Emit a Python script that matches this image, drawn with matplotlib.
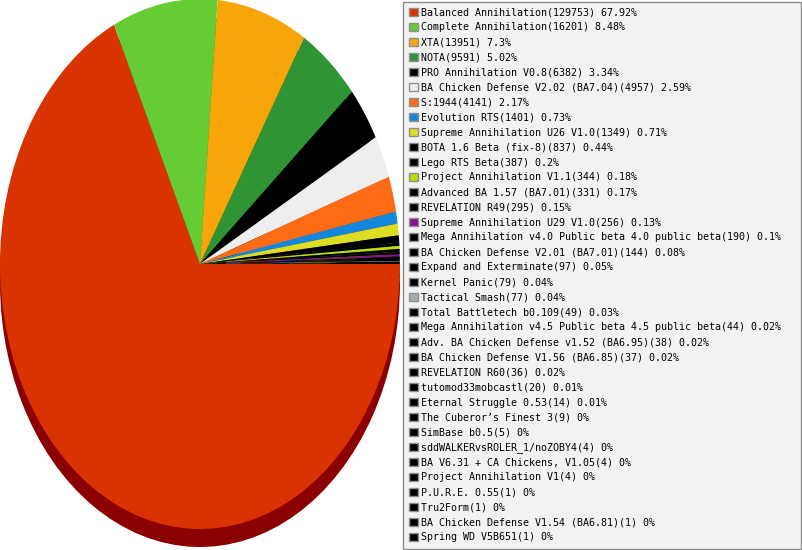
import matplotlib
matplotlib.use("Agg")
import matplotlib.pyplot as plt
from matplotlib.patches import Rectangle
from matplotlib.colors import to_rgb

names = [
    "Balanced Annihilation", "Complete Annihilation", "XTA", "NOTA",
    "PRO Annihilation V0.8", "BA Chicken Defense V2.02 (BA7.04)", "S:1944",
    "Evolution RTS", "Supreme Annihilation U26 V1.0", "BOTA 1.6 Beta (fix-8)",
    "Lego RTS Beta", "Project Annihilation V1.1", "Advanced BA 1.57 (BA7.01)",
    "REVELATION R49", "Supreme Annihilation U29 V1.0",
    "Mega Annihilation v4.0 Public beta 4.0 public beta",
    "BA Chicken Defense V2.01 (BA7.01)", "Expand and Exterminate", "Kernel Panic",
    "Tactical Smash", "Total Battletech b0.109",
    "Mega Annihilation v4.5 Public beta 4.5 public beta",
    "Adv. BA Chicken Defense v1.52 (BA6.95)", "BA Chicken Defense V1.56 (BA6.85)",
    "REVELATION R60", "tutomod33mobcastl", "Eternal Struggle 0.53",
    "The Cuberor\u2019s Finest 3", "SimBase b0.5", "sddWALKERvsROLER_1/noZOBY4",
    "BA V6.31 + CA Chickens, V1.05", "Project Annihilation V1", "P.U.R.E. 0.55",
    "Tru2Form", "BA Chicken Defense V1.54 (BA6.81)", "Spring WD V5B651",
]
counts = [129753, 16201, 13951, 9591, 6382, 4957, 4141, 1401, 1349, 837,
          387, 344, 331, 295, 256, 190, 144, 97, 79, 77, 49, 44, 38, 37,
          36, 20, 14, 9, 5, 4, 4, 4, 1, 1, 1, 1]
colors = ["#d83300", "#66cc33", "#f8a50a", "#2f9433", "#000000", "#eeeeee",
          "#ff6a14", "#1188dd", "#dddd22", "#000000", "#000000", "#bbdd00",
          "#000000", "#000000", "#881188", "#000000", "#000000", "#000000",
          "#000000", "#aaaaaa"] + ["#000000"] * 16

W, H = 803, 550
fig = plt.figure(figsize=(W / 100, H / 100), dpi=100)

# --- pie (elliptical, with depth shadow) ---
rx, ry = 200.0, 265.0
cy_top = 264.0
depth = 18.0
ax = fig.add_axes([0, 0, 400 / W, 1])
dark = [tuple(c * 0.6 for c in to_rgb(col)) for col in colors]
dark[0] = "#8b0000"
ax.pie(counts, colors=dark, startangle=0, counterclock=False,
       center=(0, -depth / ry), radius=1,
       wedgeprops=dict(linewidth=0, antialiased=True))
ax.pie(counts, colors=colors, startangle=0, counterclock=False,
       center=(0, 0), radius=1,
       wedgeprops=dict(linewidth=0, antialiased=True))
ax.set_aspect("auto")
ax.set_xlim(-1, 1)
ax.set_ylim(-(H - cy_top) / ry, cy_top / ry)
ax.axis("off")

# --- legend box ---
lax = fig.add_axes([0, 0, 1, 1])
lax.set_xlim(0, W)
lax.set_ylim(H, 0)
lax.axis("off")
lax.add_patch(Rectangle((403.5, 1.5), 398, 547, facecolor="#f2f2f2",
                        edgecolor="#8c8c8c", linewidth=1))
total = sum(counts)
n = len(names)
y0, y1 = 12.0, 537.0
step = (y1 - y0) / (n - 1)
for i, (nm, c, col) in enumerate(zip(names, counts, colors)):
    y = y0 + i * step
    pct = round(100.0 * c / total, 2)
    label = f"{nm}({c}) {pct:g}%"
    lax.add_patch(Rectangle((409.5, y - 4.5), 8.5, 8.5, facecolor=col,
                            edgecolor="#909090", linewidth=1))
    lax.text(421.5, y + 0.5, label, fontsize=7.2, family="DejaVu Sans Mono",
             va="center", ha="left", color="#000000")

fig.savefig("out.png", dpi=100)
